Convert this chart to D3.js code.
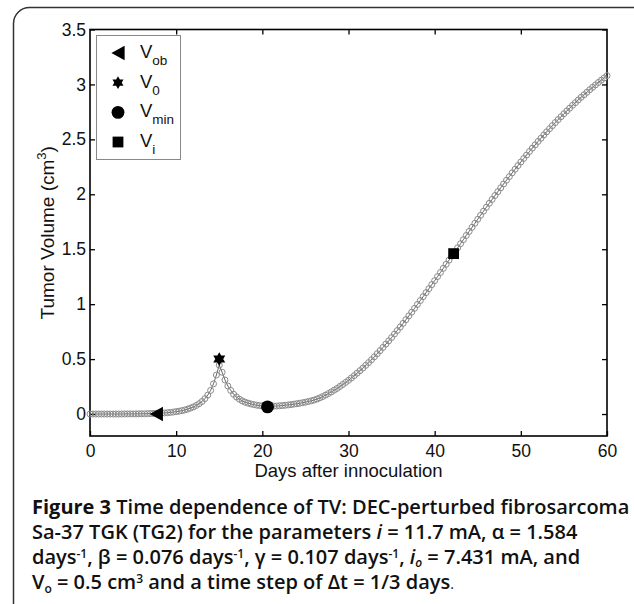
<!DOCTYPE html>
<html><head><meta charset="utf-8">
<script src="https://cdn.jsdelivr.net/npm/d3@7"></script>
<style>body{margin:0;background:#fff} svg{display:block}</style>
</head><body>
<svg id="c" width="634" height="604"></svg>
<script>
// ---- data ----
const timeStep = 1/3; // days between simulated points
const tumorVolume = [
  0.000,0.000,0.000, 0.000,0.000,0.000, 0.000,0.000,0.000, 0.000,0.000,0.000,
  0.001,0.001,0.001, 0.001,0.001,0.002, 0.002,0.002,0.003, 0.004,0.005,0.006,
  0.007,0.009,0.010, 0.012,0.015,0.018, 0.022,0.026,0.031, 0.037,0.045,0.054,
  0.065,0.078,0.094, 0.114,0.140,0.172, 0.215,0.275,0.355, 0.445,0.380,0.310,
  0.255,0.215,0.180, 0.155,0.135,0.120, 0.108,0.099,0.092, 0.086,0.081,0.077,
  0.074,0.072,0.071, 0.071,0.072,0.073, 0.075,0.077,0.080, 0.083,0.086,0.090,
  0.094,0.098,0.103, 0.108,0.114,0.120, 0.127,0.136,0.147, 0.159,0.172,0.186,
  0.201,0.217,0.233, 0.251,0.269,0.288, 0.307,0.328,0.349, 0.372,0.395,0.418,
  0.443,0.468,0.494, 0.521,0.549,0.577, 0.606,0.636,0.666, 0.696,0.728,0.760,
  0.792,0.825,0.859, 0.893,0.927,0.962, 0.997,1.033,1.069, 1.105,1.141,1.178,
  1.214,1.251,1.288, 1.326,1.363,1.401, 1.438,1.475,1.513, 1.550,1.587,1.625,
  1.662,1.699,1.736, 1.773,1.809,1.846, 1.882,1.918,1.953, 1.989,2.024,2.059,
  2.094,2.128,2.161, 2.195,2.228,2.261, 2.294,2.326,2.357, 2.389,2.420,2.450,
  2.481,2.510,2.540, 2.569,2.597,2.625, 2.653,2.680,2.706, 2.733,2.759,2.784,
  2.810,2.834,2.859, 2.883,2.906,2.929, 2.952,2.974,2.996, 3.018,3.039,3.059,
  3.080
];
const xTicks = [0, 10, 20, 30, 40, 50, 60];
const yTicks = [0, 0.5, 1, 1.5, 2, 2.5, 3, 3.5];
const markerKeys = ["ob", "0", "min", "i"];
const markerDays = [7.7, 15, 20.6, 42.2];
const markerVolumes = [0, 0.5, 0.065, 1.46];
const xLabel = "Days after innoculation";
const yLabel = "Tumor Volume (cm";

// ---- layout ----
const svg = d3.select("#c");
const m = {left: 90, right: 607, top: 29.5, bottom: 436};
const x = d3.scaleLinear().domain([0, 60]).range([m.left, m.right]);
const y = d3.scaleLinear().domain([-0.2, 3.5]).range([m.bottom, m.top]);

// outer rounded frame
svg.append("rect").attr("x", 13.5).attr("y", 7.5).attr("width", 640).attr("height", 620)
  .attr("rx", 16).attr("fill", "none").attr("stroke", "#333").attr("stroke-width", 1.5);

const font = "'Liberation Sans', Arial, Helvetica, sans-serif";

// axes
function styleAxis(g, labels) {
  g.select(".domain").remove();
  g.selectAll(".tick line").attr("stroke", "#000").attr("stroke-width", 1.3);
  g.selectAll("text").attr("font-family", font).attr("font-size", 17.5).attr("fill", "#111");
  if (!labels) g.selectAll("text").remove();
}
svg.append("g").attr("transform", `translate(0,${m.bottom})`)
  .call(d3.axisBottom(x).tickValues(xTicks).tickSize(-5).tickPadding(9).tickFormat(d3.format("d")))
  .call(g => styleAxis(g, true));
svg.append("g").attr("transform", `translate(0,${m.top})`)
  .call(d3.axisTop(x).tickValues(xTicks.slice(1, -1)).tickSize(-5))
  .call(g => styleAxis(g, false));
svg.append("g").attr("transform", `translate(${m.left},0)`)
  .call(d3.axisLeft(y).tickValues(yTicks).tickSize(-5).tickPadding(4).tickFormat(d => String(d)))
  .call(g => styleAxis(g, true));
svg.append("g").attr("transform", `translate(${m.right},0)`)
  .call(d3.axisRight(y).tickValues(yTicks).tickSize(-5))
  .call(g => styleAxis(g, false));

// plot box
svg.append("rect").attr("x", m.left).attr("y", m.top)
  .attr("width", m.right - m.left).attr("height", m.bottom - m.top)
  .attr("fill", "none").attr("stroke", "#000").attr("stroke-width", 1.6);

// series
const pts = tumorVolume.map((v, i) => [i * timeStep, v]);
svg.append("path").datum(pts)
  .attr("d", d3.line().x(d => x(d[0])).y(d => y(d[1])))
  .attr("fill", "none").attr("stroke", "#222").attr("stroke-width", 0.7);
svg.append("g").selectAll("circle").data(pts).join("circle")
  .attr("cx", d => x(d[0])).attr("cy", d => y(d[1])).attr("r", 3)
  .attr("fill", "none").attr("stroke", "#8a8a8a").attr("stroke-width", 1);

// marker shapes
function markerPath(kind, s) {
  if (kind === "ob") return `M${-s*0.55},0L${s*0.55},${-s*0.6}L${s*0.55},${s*0.6}Z`;
  if (kind === "0") {
    const r = s * 0.58, p = a => [r*Math.cos(a*Math.PI/180), r*Math.sin(a*Math.PI/180)];
    const t1 = [-90, 30, 150].map(p), t2 = [90, 210, 330].map(p);
    return "M" + t1.join("L") + "Z M" + t2.join("L") + "Z";
  }
  if (kind === "min") return d3.symbol(d3.symbolCircle, s*s*0.9)();
  return `M${-s*0.45},${-s*0.45}h${s*0.9}v${s*0.9}h${-s*0.9}Z`;
}
svg.append("g").selectAll("path").data(markerKeys).join("path")
  .attr("transform", (k, i) => `translate(${x(markerDays[i])},${y(markerVolumes[i])})`)
  .attr("d", k => markerPath(k, 12)).attr("fill", "#000").attr("fill-rule", "nonzero");

// legend
const lg = svg.append("g");
lg.append("rect").attr("x", 96.5).attr("y", 35.5).attr("width", 84).attr("height", 124)
  .attr("fill", "#fff").attr("stroke", "#888").attr("stroke-width", 1);
const lgY = d3.scalePoint().domain(markerKeys).range([53, 142]);
markerKeys.forEach(k => {
  lg.append("path").attr("transform", `translate(118,${lgY(k)})`)
    .attr("d", markerPath(k, k === "0" ? 11 : 12)).attr("fill", "#000");
  const t = lg.append("text").attr("x", 140).attr("y", lgY(k) + 5)
    .attr("font-family", font).attr("font-size", 18.5).attr("fill", "#111");
  t.append("tspan").text("V");
  t.append("tspan").attr("dy", 7).attr("font-size", 13.5).text(k);
});

// axis labels
svg.append("text").attr("x", (m.left + m.right) / 2).attr("y", 477)
  .attr("text-anchor", "middle").attr("font-family", font).attr("font-size", 18.5)
  .attr("fill", "#111").text(xLabel);
const yl = svg.append("text").attr("transform", `translate(54,${(m.top + m.bottom) / 2}) rotate(-90)`)
  .attr("text-anchor", "middle").attr("font-family", font).attr("font-size", 19).attr("fill", "#111");
yl.append("tspan").text(yLabel);
yl.append("tspan").attr("dy", -8).attr("font-size", 13).text("3");
yl.append("tspan").attr("dy", 8).text(")");

// caption
const cap = svg.append("g").attr("font-family", "'Open Sans', 'Noto Sans', sans-serif")
  .attr("font-size", 20).attr("font-weight", 600).attr("fill", "#111");
const capX = 32;
let t1 = cap.append("text").attr("x", capX).attr("y", 514);
t1.append("tspan").attr("font-weight", "bold").text("Figure 3");
t1.append("tspan").text(" Time dependence of TV: DEC-perturbed fibrosarcoma");
let t2 = cap.append("text").attr("x", capX).attr("y", 539);
t2.append("tspan").text("Sa-37 TGK (TG2) for the parameters ");
t2.append("tspan").attr("font-style", "italic").text("i");
t2.append("tspan").text(" = 11.7 mA, α = 1.584");
let t3 = cap.append("text").attr("x", capX).attr("y", 564);
t3.append("tspan").text("days");
t3.append("tspan").attr("dy", -6).attr("font-size", 12).text("-1");
t3.append("tspan").attr("dy", 6).text(", β = 0.076 days");
t3.append("tspan").attr("dy", -6).attr("font-size", 12).text("-1");
t3.append("tspan").attr("dy", 6).text(", γ = 0.107 days");
t3.append("tspan").attr("dy", -6).attr("font-size", 12).text("-1");
t3.append("tspan").attr("dy", 6).text(", ");
t3.append("tspan").attr("font-style", "italic").text("i");
t3.append("tspan").attr("dy", 3).attr("font-size", 12).attr("font-style", "italic").text("o");
t3.append("tspan").attr("dy", -3).text(" = 7.431 mA, and");
let t4 = cap.append("text").attr("x", capX).attr("y", 589);
t4.append("tspan").text("V");
t4.append("tspan").attr("dy", 4).attr("font-size", 12).text("o");
t4.append("tspan").attr("dy", -4).text(" = 0.5 cm");
t4.append("tspan").attr("dy", -6).attr("font-size", 12).text("3");
t4.append("tspan").attr("dy", 6).text(" and a time step of Δt = 1/3 days");
t4.append("tspan").attr("font-size", 14).attr("font-weight", 400).text(".");
</script>
</body></html>
